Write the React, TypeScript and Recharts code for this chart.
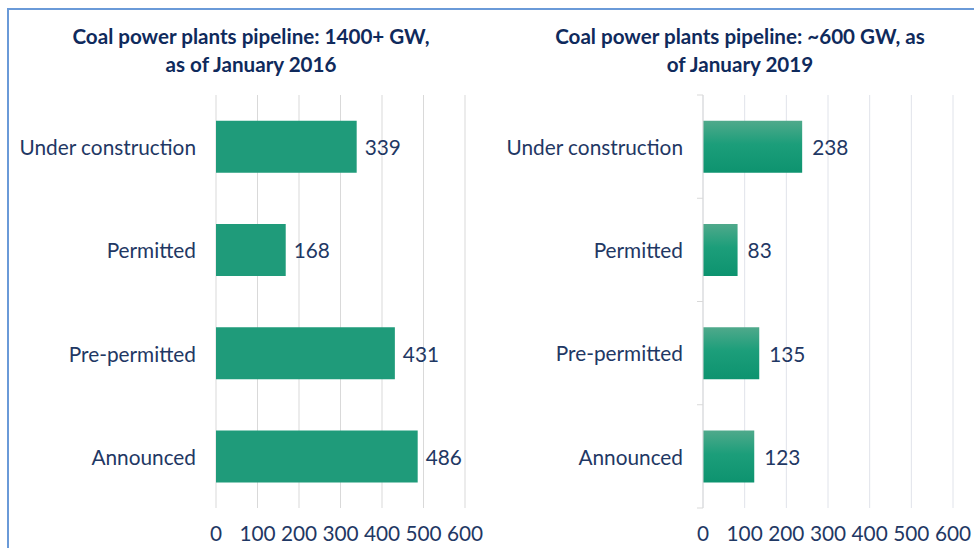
import {
  BarChart, Bar, XAxis, YAxis, CartesianGrid, LabelList,
} from 'recharts';

const CATEGORIES = ['Under construction', 'Permitted', 'Pre-permitted', 'Announced'];
const GW_2016 = [339, 168, 431, 486];
const GW_2019 = [238, 83, 135, 123];
const X_TICKS = [0, 100, 200, 300, 400, 500, 600];

const TITLE_2016 = ['Coal power plants pipeline: 1400+ GW,', 'as of January 2016'];
const TITLE_2019 = ['Coal power plants pipeline: ~600 GW, as', 'of January 2019'];

const NAVY = '#1f3864';
const FONT = 'Lato, "Open Sans", sans-serif';

const data2016 = CATEGORIES.map((name, i) => ({ name, value: GW_2016[i] }));
const data2019 = CATEGORIES.map((name, i) => ({ name, value: GW_2019[i] }));

const TICK_GAP = 20;

// y-axis tick for the right chart: label plus small marks at the band edges
const BandTick = (props: any) => {
  const { x, y, payload, index } = props;
  const axisX = x + TICK_GAP;
  const half = payload && typeof payload.offset === 'number' && payload.offset > 0 ? payload.offset : 51.6;
  return (
    <g>
      <line x1={axisX - 6} x2={axisX} y1={y - half} y2={y - half} stroke="#d9d9d9" />
      {index === CATEGORIES.length - 1 && (
        <line x1={axisX - 6} x2={axisX} y1={y + half} y2={y + half} stroke="#d9d9d9" />
      )}
      <text x={x} y={y + 1} dy="0.35em" textAnchor="end" fill={NAVY} fontSize={20.8} fontFamily={FONT}>
        {payload.value}
      </text>
    </g>
  );
};

const Title = ({ lines, center }: { lines: string[]; center: number }) => (
  <div
    style={{
      position: 'absolute', top: 22, left: center - 250, width: 500,
      textAlign: 'center', fontFamily: FONT, fontWeight: 700, fontSize: 20.6,
      lineHeight: '28px', color: '#0f2a5c',
    }}
  >
    {lines[0]}<br />{lines[1]}
  </div>
);

const App = () => {
  const tickStyle = { fontSize: 20.8, fontFamily: FONT, fill: NAVY };
  return (
    <div style={{ position: 'absolute', left: 0, top: 0, width: 974, height: 548, background: '#fff', overflow: 'hidden' }}>
      <div style={{ position: 'absolute', left: 7, top: 8, width: 980, height: 560, borderLeft: '2px solid #6a9ad8', borderTop: '2px solid #6a9ad8' }} />
      <Title lines={TITLE_2016} center={251} />
      <Title lines={TITLE_2019} center={740} />

      <div style={{ position: 'absolute', left: 0, top: 0 }}>
        <BarChart width={490} height={548} data={data2016} layout="vertical" barCategoryGap="25%"
          margin={{ top: 95, right: 25, bottom: 10, left: 0 }}>
          <CartesianGrid horizontal={false} stroke="#d9d9d9" />
          <XAxis type="number" domain={[0, 600]} ticks={X_TICKS} axisLine={false} tickLine={false}
            height={30} tickSize={6} tickMargin={12} tick={tickStyle} />
          <YAxis type="category" dataKey="name" width={216} axisLine={false} tickLine={false}
            tickSize={0} tickMargin={TICK_GAP} tick={{ ...tickStyle, dy: 1 }} />
          <Bar dataKey="value" fill="#1f9b7a" isAnimationActive={false}>
            <LabelList dataKey="value" position="right" offset={8} fill={NAVY} fontSize={20.8} fontFamily={FONT} dy={1} />
          </Bar>
        </BarChart>
      </div>

      <div style={{ position: 'absolute', left: 490, top: 0 }}>
        <BarChart width={484} height={548} data={data2019} layout="vertical" barCategoryGap="25%"
          margin={{ top: 95, right: 21, bottom: 10, left: 0 }}>
          <defs>
            <linearGradient id="greenFade" x1="0" y1="0" x2="0" y2="1">
              <stop offset="0%" stopColor="#4fa98b" />
              <stop offset="45%" stopColor="#1c9e7a" />
              <stop offset="100%" stopColor="#0d936f" />
            </linearGradient>
          </defs>
          <CartesianGrid horizontal={false} stroke="#e0e3ea" />
          <XAxis type="number" domain={[0, 600]} ticks={X_TICKS} axisLine={false} tickLine={false}
            height={30} tickSize={6} tickMargin={12} tick={tickStyle} />
          <YAxis type="category" dataKey="name" width={213} axisLine={{ stroke: '#d9d9d9' }} tickLine={false}
            tickSize={0} tickMargin={TICK_GAP} tick={<BandTick />} />
          <Bar dataKey="value" fill="url(#greenFade)" isAnimationActive={false}>
            <LabelList dataKey="value" position="right" offset={10} fill={NAVY} fontSize={20.8} fontFamily={FONT} dy={1} />
          </Bar>
        </BarChart>
      </div>
    </div>
  );
};

export default App;
